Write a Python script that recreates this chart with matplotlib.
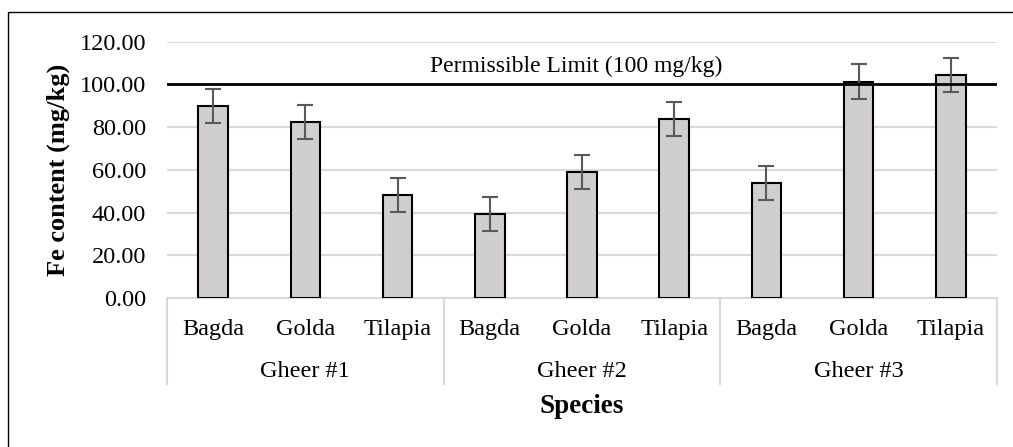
import matplotlib
matplotlib.use("Agg")
import matplotlib.pyplot as plt
from matplotlib.patches import Rectangle
from matplotlib.lines import Line2D
import numpy as np

# data
groups = ["Gheer #1", "Gheer #2", "Gheer #3"]
species = ["Bagda", "Golda", "Tilapia"]
fe_values = [89.9, 82.2, 48.2, 39.4, 58.9, 83.9, 53.7, 101.3, 104.4]
fe_errors = [8, 8, 8, 8, 8, 8, 8, 8, 8]
limit = 100
yticks = [0, 20, 40, 60, 80, 100, 120]

plt.rcParams['font.family'] = ['Liberation Serif', 'DejaVu Serif']

W, H = 1013, 447
fig = plt.figure(figsize=(W / 100, H / 100), dpi=100)
fig.patch.set_facecolor("white")

# outer chart frame (only top/left are inside the picture)
fig.patches.append(Rectangle((8 / W, -0.1), 1.2, 1 - 12 / H + 0.1, transform=fig.transFigure,
                             fill=False, edgecolor="black", linewidth=1.0))

left, right, bottom, top = 167, 997, 298, 41.6
ax = fig.add_axes([left / W, 1 - bottom / H, (right - left) / W, (bottom - top) / H])

x = np.arange(len(fe_values))
ax.bar(x, fe_values, width=0.32, color="#d0cece", edgecolor="black", linewidth=1.5, zorder=3)
ax.errorbar(x, fe_values, yerr=fe_errors, fmt="none", ecolor="#595959", elinewidth=1.5,
            capsize=5.5, capthick=1.5, zorder=4)

ax.axhline(limit, color="black", linewidth=2, zorder=5)
ax.text(3.935, (298 - 72) / 2.137, "Permissible Limit (100 mg/kg)", ha="center",
        va="baseline", fontsize=17)

ax.set_xlim(-0.5, len(fe_values) - 0.5)
ax.set_ylim(0, 120)
ax.set_yticks(yticks)
ax.set_yticklabels([f"{v:.2f}" for v in yticks], fontsize=17.5)
ax.yaxis.grid(True, color="#d9d9d9", linewidth=1.5, zorder=0)
ax.tick_params(axis="y", length=0, pad=15)
fig.text(58 / W, 1 - 170 / H, "Fe content (mg/kg)", rotation=90, ha="center", va="center",
         fontsize=19, fontweight="bold")

for s in ["top", "right", "left"]:
    ax.spines[s].set_visible(False)
ax.spines["bottom"].set_color("#d9d9d9")
ax.spines["bottom"].set_linewidth(1.5)

# hierarchical category axis
ax.set_xticks(x)
ax.set_xticklabels([])
ax.tick_params(axis="x", length=0)

ph = bottom - top
tr = ax.get_xaxis_transform()
depth = -(384 - 298) / ph
for xb in [-0.5, 2.5, 5.5, 8.5]:
    ax.add_line(Line2D([xb, xb], [0, depth], transform=tr, color="#d9d9d9",
                       linewidth=1.5, clip_on=False))
for i, sp in enumerate(species * len(groups)):
    ax.text(i, -(335 - 298) / ph, sp, transform=tr, ha="center", va="baseline", fontsize=17.5)
for i, g in enumerate(groups):
    ax.text(i * 3 + 1, -(377 - 298) / ph, g, transform=tr,
            ha="center", va="baseline", fontsize=17.5)

ax.text(4.0, -(413 - 298) / ph, "Species", transform=tr,
        ha="center", va="baseline", fontsize=19.5, fontweight="bold")

fig.savefig("out.png", dpi=100, facecolor=fig.get_facecolor())
